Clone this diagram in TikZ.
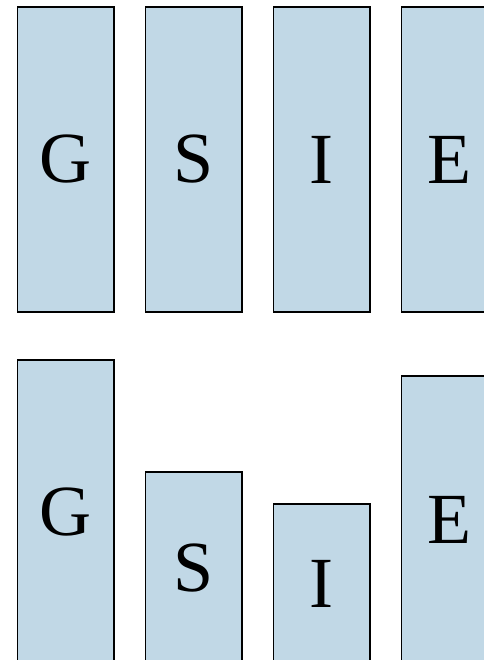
\documentclass[tikz,border=0pt]{standalone}
\usepackage{fontspec}
\setmainfont{Liberation Serif}
\usepackage{tikz}
\usetikzlibrary{positioning}
\definecolor{barblue}{RGB}{193,216,230}
\tikzset{bar/.style={draw=black, fill=barblue, line width=1.5pt,
    rectangle, inner sep=0pt, anchor=north, minimum width=96.5pt,
    font=\fontsize{72}{72}\selectfont}}

\begin{document}
\begin{tikzpicture}[x=1pt,y=-1pt]
  \useasboundingbox (0,0) rectangle (483,660);
  % top row, all the same
  \node[bar, minimum height=304.5pt] (g1) at (65.75,6.5) {G};
  \node[bar, minimum height=304.5pt] (s1) at (193.75,6.5) {S};
  \node[bar, minimum height=304.5pt] (i1) at (321.75,6.5) {I};
  \node[bar, minimum height=304.5pt] (e1) at (449.75,6.5) {E};
  % bottom row, bars run off the page
  \node[bar, minimum height=304pt] (g2) at (65.75,359) {G};
  \node[bar, minimum height=192pt] (s2) at (193.75,471) {S};
  \node[bar, minimum height=160pt] (i2) at (321.75,503) {I};
  \node[bar, minimum height=288pt] (e2) at (449.75,375) {E};
\end{tikzpicture}
\end{document}
